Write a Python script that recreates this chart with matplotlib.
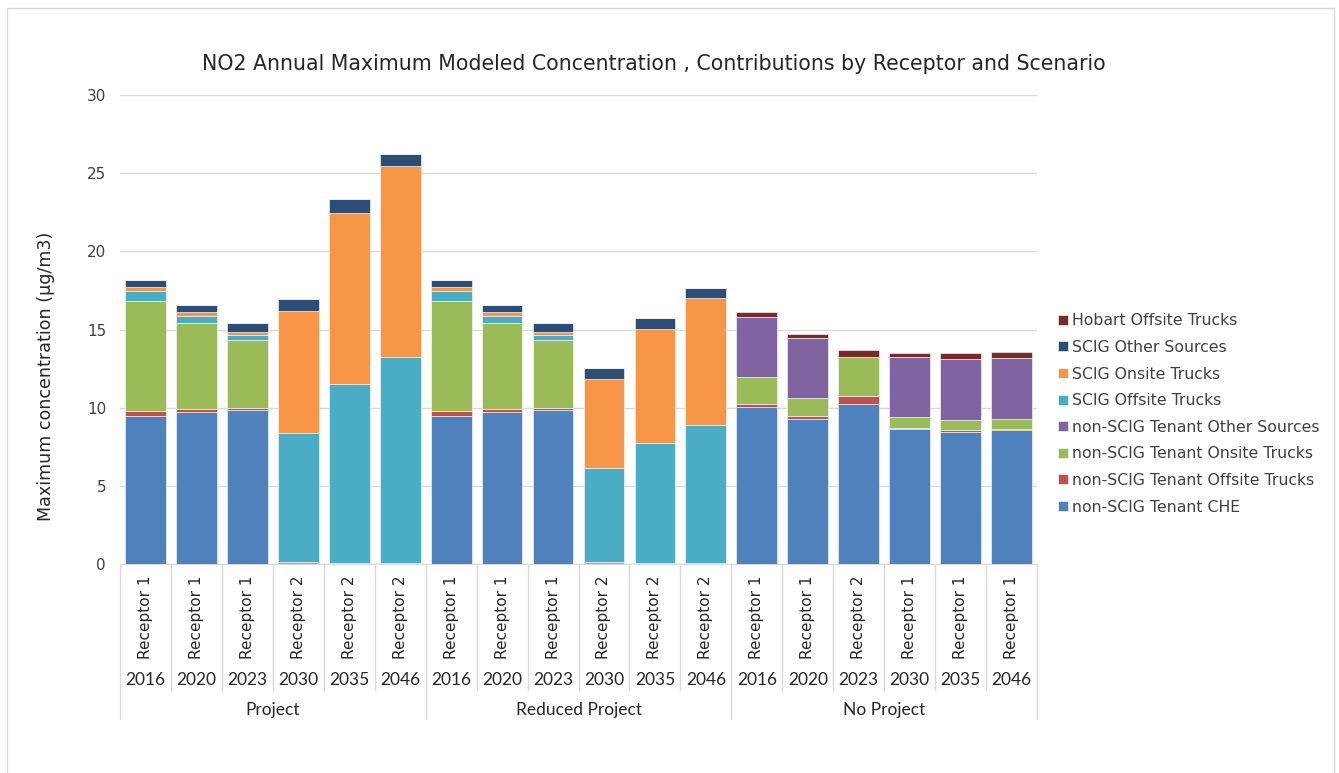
import numpy as np
import matplotlib
matplotlib.use('Agg')
import matplotlib.pyplot as plt
import matplotlib.transforms as mtransforms
from matplotlib.patches import Rectangle


# Categories (scenario / year / receptor)
scenarios = ['Project', 'Reduced Project', 'No Project']
years = ['2016', '2020', '2023', '2030', '2035', '2046']
receptors = ['Receptor 1', 'Receptor 1', 'Receptor 1', 'Receptor 2', 'Receptor 2', 'Receptor 2',
             'Receptor 1', 'Receptor 1', 'Receptor 1', 'Receptor 2', 'Receptor 2', 'Receptor 2',
             'Receptor 1', 'Receptor 1', 'Receptor 2', 'Receptor 1', 'Receptor 1', 'Receptor 1']

# Series values, bottom of the stack first
tenant_che = [9.49, 9.70, 9.87, 0, 0, 0,
              9.49, 9.70, 9.87, 0, 0, 0,
              10.02, 9.30, 10.22, 8.62, 8.47, 8.55]
tenant_offsite = [0.32, 0.22, 0.13, 0.02, 0.05, 0.05,
                  0.32, 0.22, 0.13, 0.02, 0.05, 0.05,
                  0.24, 0.17, 0.55, 0.08, 0.10, 0.09]
tenant_onsite = [7.04, 5.48, 4.31, 0.10, 0.04, 0.04,
                 7.04, 5.48, 4.31, 0.10, 0.04, 0.04,
                 1.68, 1.13, 2.45, 0.69, 0.66, 0.66]
tenant_other = [0, 0, 0, 0, 0, 0,
                0, 0, 0, 0, 0, 0,
                3.88, 3.88, 0.05, 3.85, 3.86, 3.88]
scig_offsite = [0.62, 0.49, 0.32, 8.24, 11.41, 13.15,
                0.62, 0.49, 0.32, 6.02, 7.63, 8.78,
                0, 0, 0, 0, 0, 0]
scig_onsite = [0.27, 0.23, 0.23, 7.83, 10.98, 12.25,
               0.27, 0.23, 0.23, 5.72, 7.32, 8.15,
               0, 0, 0, 0, 0, 0]
scig_other = [0.45, 0.47, 0.54, 0.79, 0.89, 0.72,
              0.45, 0.47, 0.54, 0.68, 0.68, 0.64,
              0, 0, 0, 0, 0, 0]
hobart_offsite = [0, 0, 0, 0, 0, 0,
                  0, 0, 0, 0, 0, 0,
                  0.28, 0.22, 0.43, 0.28, 0.39, 0.38]

series = [
    ('non-SCIG Tenant CHE', tenant_che, '#4F81BD'),
    ('non-SCIG Tenant Offsite Trucks', tenant_offsite, '#C0504D'),
    ('non-SCIG Tenant Onsite Trucks', tenant_onsite, '#9BBB59'),
    ('non-SCIG Tenant Other Sources', tenant_other, '#8064A2'),
    ('SCIG Offsite Trucks', scig_offsite, '#4BACC6'),
    ('SCIG Onsite Trucks', scig_onsite, '#F79646'),
    ('SCIG Other Sources', scig_other, '#2C4D75'),
    ('Hobart Offsite Trucks', hobart_offsite, '#772C2A'),
]

W, H = 1339, 773
fig = plt.figure(figsize=(W / 100, H / 100), dpi=100)
ax = fig.add_axes([120 / W, (H - 564) / H, 917 / W, (564 - 95) / H])

x = np.arange(len(receptors))
bottom = np.zeros(len(receptors))
handles = []
for name, vals, col in series:
    vals = np.array(vals, dtype=float)
    b = ax.bar(x, vals, 0.8, bottom=bottom, color=col, label=name,
               edgecolor='white', linewidth=0.4, zorder=3)
    handles.append(b)
    bottom += vals

ax.set_xlim(-0.5, len(receptors) - 0.5)
ax.set_ylim(0, 30)
ax.set_yticks(range(0, 31, 5))
ax.tick_params(axis='y', length=0, labelsize=11, labelcolor='#404040', pad=10)
ax.set_xticks([])
ax.grid(axis='y', color='#D9D9D9', linewidth=1, zorder=0)
for s in ['top', 'right', 'left']:
    ax.spines[s].set_visible(False)
ax.spines['bottom'].set_color('#D9D9D9')

# multi-level category axis
trans = mtransforms.blended_transform_factory(ax.transData, fig.transFigure)
y_axis = (H - 564) / H
y_cat = (H - 690) / H
y_grp = (H - 719) / H
for k in range(len(receptors) + 1):
    xs = k - 0.5
    y_end = y_grp if k % 6 == 0 else y_cat
    ax.plot([xs, xs], [y_axis, y_end], color='#D9D9D9', lw=1,
            transform=trans, clip_on=False)

narrow = ['Lato', 'Liberation Sans', 'DejaVu Sans']
for i, r in enumerate(receptors):
    ax.text(i, (H - 617) / H, r, rotation=90, ha='center', va='center',
            fontsize=11, color='#262626', transform=trans)
    ax.text(i, (H - 680) / H, years[i % 6], ha='center', va='center',
            fontsize=12.5, color='#262626', transform=trans, family=narrow)
for g, sc in enumerate(scenarios):
    ax.text(g * 6 + 2.5, (H - 710) / H, sc, ha='center', va='center',
            fontsize=12.5, color='#262626', transform=trans, family=narrow)

fig.text(654 / W, (H - 64) / H,
         'NO2 Annual Maximum Modeled Concentration , Contributions by Receptor and Scenario',
         ha='center', va='center', fontsize=14.8, color='#262626')
fig.text(46 / W, (H - 376) / H, 'Maximum concentration (µg/m3)',
         rotation=90, ha='center', va='center', fontsize=12.6, color='#262626')

leg = fig.legend(handles[::-1], [s[0] for s in series][::-1],
                 loc='upper left', bbox_to_anchor=(1052 / W, (H - 307) / H),
                 frameon=False, fontsize=11.3, handlelength=0.6, handleheight=0.6,
                 handletextpad=0.3, labelspacing=0.74, borderaxespad=0)
for t in leg.get_texts():
    t.set_color('#404040')

# outer chart border
fig.patches.append(Rectangle((7 / W, -0.05), 1327 / W, (H - 8) / H + 0.05,
                             transform=fig.transFigure, fill=False,
                             edgecolor='#D9D9D9', lw=1))

fig.savefig('out.png', dpi=100)
